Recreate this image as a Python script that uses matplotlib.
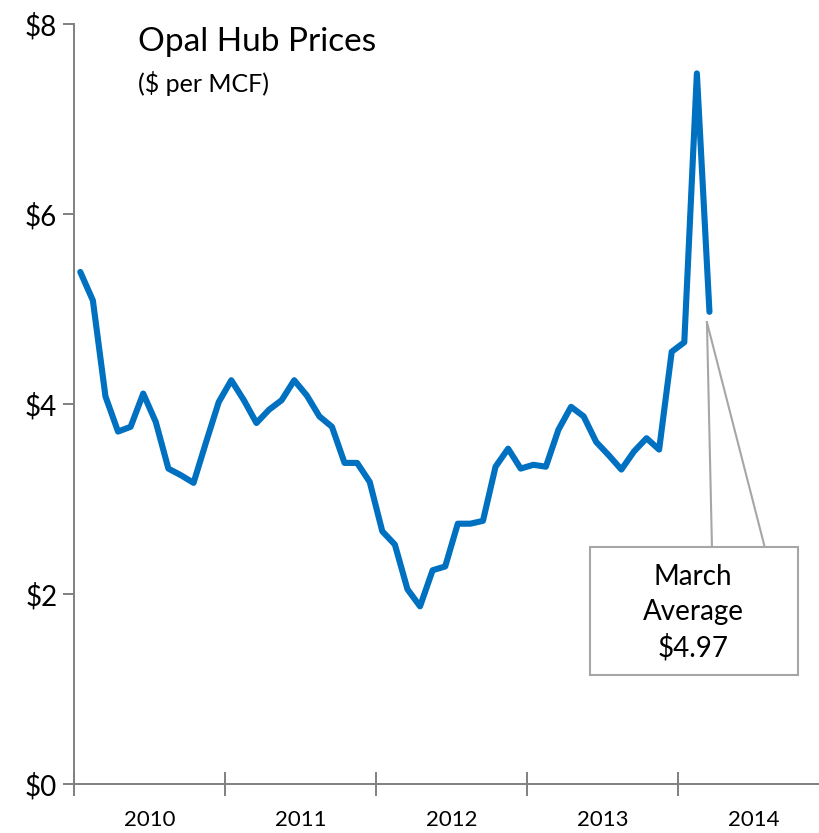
import numpy as np
import matplotlib.pyplot as plt
from matplotlib.patches import Rectangle

plt.rcParams['font.family'] = ['Lato', 'DejaVu Sans']

# monthly prices, Jan 2010 .. Mar 2014
prices = [5.39, 5.09, 4.08, 3.71, 3.76, 4.11, 3.81, 3.32, 3.25, 3.17, 3.60, 4.02,
          4.25, 4.04, 3.80, 3.94, 4.04, 4.25, 4.09, 3.87, 3.76, 3.38, 3.38, 3.18,
          2.66, 2.52, 2.05, 1.87, 2.25, 2.29, 2.74, 2.74, 2.77, 3.34, 3.53, 3.32,
          3.36, 3.34, 3.73, 3.97, 3.87, 3.60, 3.46, 3.31, 3.50, 3.64, 3.52, 4.55,
          4.65, 7.48, 4.97]
years = ['2010', '2011', '2012', '2013', '2014']
march_avg = 4.97

W, H = 820, 833
fig = plt.figure(figsize=(W / 100, H / 100), dpi=100)
left, right = 74 / W, 829 / W
bottom, top = (H - 784) / H, (H - 24) / H
ax = fig.add_axes([left, bottom, right - left, top - bottom])

months = np.arange(len(prices)) + 0.5
ax.plot(months, prices, color='#0070C0', lw=4.4, solid_capstyle='round',
        solid_joinstyle='round', clip_on=False)

ax.set_xlim(0, 60)
ax.set_ylim(0, 8)

grey = '#808080'
for s in ['top', 'right']:
    ax.spines[s].set_visible(False)
for s in ['left', 'bottom']:
    ax.spines[s].set_color(grey)
    ax.spines[s].set_linewidth(1.4)

ax.set_yticks([0, 2, 4, 6, 8])
ax.set_yticklabels(['$0', '$2', '$4', '$6', '$8'])
ax.tick_params(axis='y', direction='out', length=8, width=1.4, color=grey,
               labelsize=20, pad=4)

ax.set_xticks(np.arange(0, 61, 12))
ax.set_xticklabels([])
ax.set_xticks(np.arange(6, 60, 12), minor=True)
ax.set_xticklabels(years, minor=True)
ax.tick_params(axis='x', which='major', direction='inout', length=17, width=1.4,
               color=grey)
ax.tick_params(axis='x', which='minor', length=0, labelsize=16, pad=19)

# title
fig.text(138 / W, 1 - 42 / H, 'Opal Hub Prices', fontsize=24, va='center', ha='left')
fig.text(138 / W, 1 - 84 / H, '($ per MCF)', fontsize=18, va='center', ha='left')

# callout
lc = '#A6A6A6'
x_last = months[-1]
ax.plot([x_last - 0.2, x_last + 0.2], [march_avg - 0.11, 2.49], color=lc, lw=1.5)
ax.plot([x_last - 0.2, 54.9], [march_avg - 0.11, 2.49], color=lc, lw=1.5)
ax.add_patch(Rectangle((41.0, 1.15), 16.55, 1.34, facecolor='white',
                       edgecolor=lc, lw=1.5, zorder=3))
ax.text(49.2, 1.80, 'March\nAverage\n$%.2f' % march_avg, ha='center', va='center',
        fontsize=20, linespacing=1.42, zorder=4)

fig.savefig('out.png', dpi=100)
